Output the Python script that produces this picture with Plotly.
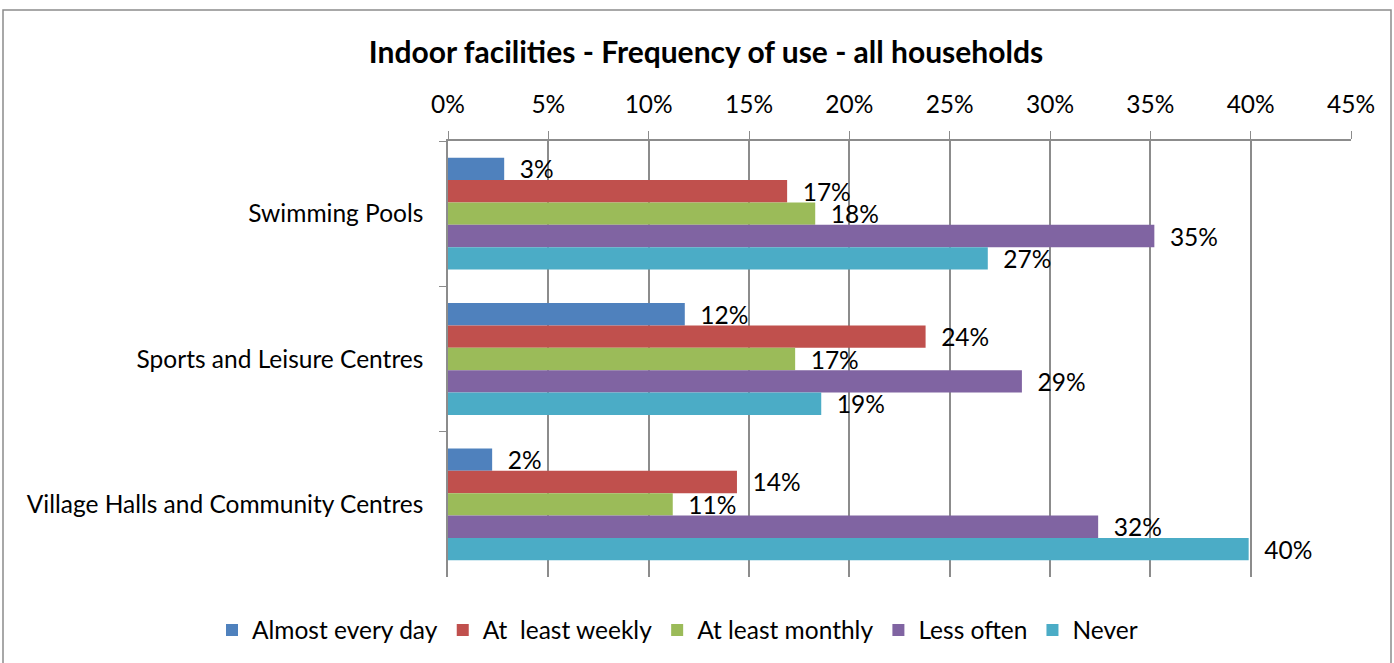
import plotly.graph_objects as go

categories = ["Swimming Pools", "Sports and Leisure Centres", "Village Halls and Community Centres"]
series_names = ["Almost every day", "At  least weekly", "At least monthly", "Less often", "Never"]
almost_every_day = [0.028, 0.118, 0.022]
at_least_weekly = [0.169, 0.238, 0.144]
at_least_monthly = [0.183, 0.173, 0.112]
less_often = [0.352, 0.286, 0.324]
never = [0.269, 0.186, 0.399]
colors = ["#4F81BD", "#C0504D", "#9BBB59", "#8064A2", "#4BACC6"]
x_ticks = [0, 0.05, 0.10, 0.15, 0.20, 0.25, 0.30, 0.35, 0.40, 0.45]

series_values = [almost_every_day, at_least_weekly, at_least_monthly, less_often, never]
FONT = "Lato"
FS = 24.5

fig = go.Figure()
for name, vals, col in zip(series_names, series_values, colors):
    fig.add_trace(go.Bar(
        y=categories, x=vals, name=name, orientation="h",
        marker=dict(color=col, line=dict(width=0)),
        texttemplate="\u00a0\u00a0%{x:.0%}", textposition="outside",
        constraintext="none",
        textfont=dict(family=FONT, size=FS, color="#000000"),
        cliponaxis=False,
    ))

W, H = 1394, 663
L, R, T, B = 448, 43, 141, 86
pw, ph = W - L - R, H - T - B

fig.update_layout(
    width=W, height=H,
    margin=dict(l=L, r=R, t=T, b=B, autoexpand=False),
    paper_bgcolor="white", plot_bgcolor="white",
    barmode="group", bargap=0.23, bargroupgap=0,
    font=dict(family=FONT, size=FS, color="#000000"),
    title=dict(text="<b>Indoor facilities - Frequency of use - all households</b>",
               x=706 / W, xref="container", xanchor="center",
               y=1 - 52 / H, yref="container", yanchor="middle",
               font=dict(family=FONT, size=30, color="#000000")),
    legend=dict(orientation="h", x=(212 - L) / pw, xref="paper", xanchor="left",
                y=1 - (630 - T) / ph, yref="paper", yanchor="middle",
                font=dict(family=FONT, size=FS, color="#000000"),
                traceorder="normal"),
    uniformtext=dict(mode=False),
)
fig.update_xaxes(
    range=[0, 0.45], side="top", tickvals=x_ticks, tickformat=".0%",
    showgrid=True, gridcolor="#8C8C8C", gridwidth=1.5,
    showline=True, linecolor="#8C8C8C", linewidth=1.5,
    ticks="outside", ticklen=8, tickcolor="#8C8C8C",
    zeroline=False, ticklabelstandoff=8,
    tickfont=dict(family=FONT, size=FS, color="#000000"),
)
fig.update_yaxes(
    autorange="reversed", showline=True, linecolor="#8C8C8C", linewidth=1.5,
    ticks="outside", ticklen=7, tickcolor="#8C8C8C", tickson="boundaries",
    showgrid=False, ticklabelstandoff=18,
    tickfont=dict(family=FONT, size=FS, color="#000000"),
)
# outer chart frame
fig.add_shape(type="rect", xref="paper", yref="paper",
              x0=(3 - L) / pw, x1=(1391 - L) / pw,
              y0=1 - (H + 5 - T) / ph, y1=1 - (10 - T) / ph,
              line=dict(color="#8C8C8C", width=1.5), fillcolor="rgba(0,0,0,0)",
              layer="below")

fig.write_html("out.html", config={"displayModeBar": False},
               post_script="document.body.style.margin='0';")
